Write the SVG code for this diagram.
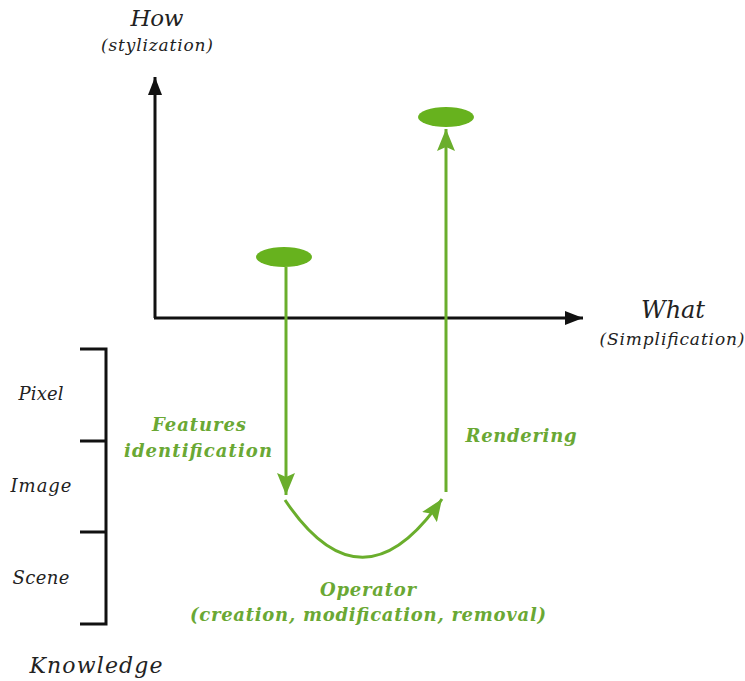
<svg xmlns="http://www.w3.org/2000/svg" width="745" height="681" viewBox="0 0 745 681">
<defs>
<style>
.ax{stroke:#111;stroke-width:3;fill:none}
.gl{stroke:#6aae2c;stroke-width:3;fill:none}
.lab{font-family:"DejaVu Serif","Liberation Serif",serif;font-style:italic;fill:#222;text-anchor:middle}
.gt{font-family:"DejaVu Serif","Liberation Serif",serif;font-style:italic;font-weight:bold;fill:#6aa834;text-anchor:middle;font-size:18px}
.node{fill:#67b21e}
</style>
<marker id="ab" markerUnits="userSpaceOnUse" markerWidth="20" markerHeight="14" refX="18" refY="7" orient="auto"><path d="M0,0 L18,7 L0,14 Z" fill="#111"/></marker>
<marker id="ag" markerUnits="userSpaceOnUse" markerWidth="24" markerHeight="18" refX="22" refY="9" orient="auto"><path d="M0,0 L22,9 L0,18 L4,9 Z" fill="#6aae2c"/></marker>
</defs>
<g id="axes">
<line class="ax" x1="155" y1="318" x2="155" y2="77" marker-end="url(#ab)"/>
<line class="ax" x1="154" y1="318" x2="583" y2="318" marker-end="url(#ab)"/>
<text class="lab" x="157" y="26" font-size="23" textLength="53">How</text>
<text class="lab" x="157" y="51" font-size="17" textLength="112">(stylization)</text>
<text class="lab" x="673" y="318" font-size="24" textLength="64">What</text>
<text class="lab" x="672" y="345" font-size="17" textLength="145">(Simplification)</text>
</g>
<g id="knowledge">
<path class="ax" d="M80,349 H106 V624 H80 M80,441 H106 M80,532 H106"/>
<text class="lab" x="41" y="400" font-size="18" textLength="45">Pixel</text>
<text class="lab" x="41" y="492" font-size="18" textLength="61">Image</text>
<text class="lab" x="41" y="584" font-size="18" textLength="57">Scene</text>
<text class="lab" x="96" y="673" font-size="22" textLength="133">Knowledge</text>
</g>
<g id="node-start"><ellipse class="node" cx="284" cy="257" rx="28" ry="10"/></g>
<g id="node-end"><ellipse class="node" cx="446" cy="117" rx="28" ry="10"/></g>
<g id="connectors">
<line class="gl" x1="286" y1="267" x2="286" y2="495" marker-end="url(#ag)"/>
<path class="gl" d="M285,500 Q362,615 442,499" marker-end="url(#ag)"/>
<line class="gl" x1="446" y1="492" x2="446" y2="129" marker-end="url(#ag)"/>
</g>
<g id="labels">
<text class="gt" x="199" y="431" textLength="94">Features</text>
<text class="gt" x="198" y="457" textLength="148">identification</text>
<text class="gt" x="521" y="442" textLength="111">Rendering</text>
<text class="gt" x="368" y="596" textLength="96">Operator</text>
<text class="gt" x="368" y="621" textLength="356">(creation, modification, removal)</text>
</g>
</svg>
